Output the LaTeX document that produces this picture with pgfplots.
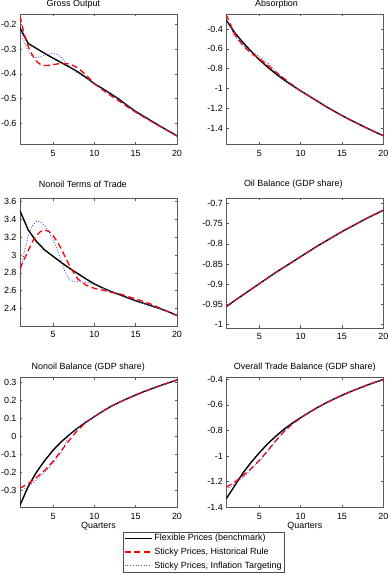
\documentclass[border=0pt]{standalone}
\usepackage{fontspec}
\setmainfont{Liberation Sans}
\usepackage{pgfplots}
\pgfplotsset{compat=1.18}
\definecolor{infl}{rgb}{0.3,0.3,0.85}
\newcommand{\fs}{\fontsize{9}{10}\selectfont}
\pgfplotsset{
  panel/.style={
    scale only axis, width=157bp, anchor=north west,
    xmin=1, xmax=20, xtick={5,10,15,20},
    axis line style={draw=black!65},
    every tick/.style={draw=black!65},
    major tick length=2.5bp,
    tick label style={font=\fs},
    xticklabel style={yshift=-2.5bp},
    /pgf/number format/assume math mode=true,
    scaled y ticks=false,
    title style={font=\fs, anchor=base},
    label style={font=\fs},
  },
  flex/.style={black, line width=1.4bp},
  hist/.style={red, line width=1.3bp, dash pattern=on 6bp off 3.5bp},
  inflt/.style={infl, line width=0.9bp, dash pattern=on 0.9bp off 1.8bp},
}
\begin{document}
\begin{tikzpicture}
\useasboundingbox (0,0) rectangle (388bp,-575bp);
% Panel 1
\begin{axis}[panel, at={(20bp,-14bp)}, height=130bp,
  ymin=-0.683, ymax=-0.159, ytick={-0.6,-0.5,-0.4,-0.3,-0.2},
  title={Gross Output}, title style={at={(0.34,1)}, yshift=1.5bp}]
\addplot[flex] coordinates {(1,-0.215) (2,-0.278) (3,-0.298) (4,-0.318) (5,-0.337) (6,-0.355) (7,-0.373) (8,-0.392) (9,-0.415) (10,-0.44) (11,-0.46) (12,-0.481) (13,-0.503) (14,-0.528) (15,-0.552) (16,-0.572) (17,-0.592) (18,-0.612) (19,-0.631) (20,-0.65)};
\addplot[hist] coordinates {(1,-0.168) (1.5,-0.24) (2,-0.29) (2.5,-0.325) (3,-0.35) (3.5,-0.363) (4,-0.367) (4.5,-0.366) (5,-0.363) (6,-0.358) (7,-0.36) (8,-0.376) (9,-0.405) (10,-0.44) (11,-0.465) (12,-0.488) (13,-0.51) (14,-0.533) (15,-0.555) (16,-0.575) (17,-0.594) (18,-0.613) (19,-0.632) (20,-0.651)};
\addplot[inflt] coordinates {(1,-0.225) (1.5,-0.27) (2,-0.31) (2.5,-0.33) (3,-0.335) (3.5,-0.33) (4,-0.325) (5,-0.318) (5.5,-0.322) (6,-0.335) (7,-0.37) (8,-0.398) (9,-0.418) (10,-0.44) (11,-0.462) (12,-0.483) (13,-0.505) (14,-0.529) (15,-0.553) (16,-0.573) (17,-0.593) (18,-0.612) (19,-0.631) (20,-0.65)};
\end{axis}
% Panel 2
\begin{axis}[panel, at={(226.3bp,-14bp)}, height=130bp,
  ymin=-1.562, ymax=-0.248, ytick={-1.4,-1.2,-1,-0.8,-0.6,-0.4},
  title={Absorption}, title style={at={(0.32,1)}, yshift=1.5bp}]
\addplot[flex] coordinates {(1,-0.31) (2,-0.435) (3,-0.535) (4,-0.625) (5,-0.71) (6,-0.785) (7,-0.853) (8,-0.915) (9,-0.972) (10,-1.025) (11,-1.076) (12,-1.128) (13,-1.18) (14,-1.228) (15,-1.275) (16,-1.318) (17,-1.36) (18,-1.401) (19,-1.44) (20,-1.478)};
\addplot[hist] coordinates {(1,-0.255) (2,-0.45) (3,-0.565) (4,-0.645) (5,-0.7) (6,-0.765) (7,-0.835) (8,-0.9) (9,-0.965) (10,-1.025) (11,-1.076) (12,-1.128) (13,-1.18) (14,-1.228) (15,-1.275) (16,-1.318) (17,-1.36) (18,-1.401) (19,-1.44) (20,-1.478)};
\addplot[inflt] coordinates {(1,-0.3) (2,-0.47) (3,-0.565) (4,-0.625) (5,-0.68) (6,-0.745) (7,-0.83) (8,-0.905) (9,-0.97) (10,-1.025) (11,-1.076) (12,-1.128) (13,-1.18) (14,-1.228) (15,-1.275) (16,-1.318) (17,-1.36) (18,-1.401) (19,-1.44) (20,-1.478)};
\end{axis}
% Panel 3
\begin{axis}[panel, at={(20bp,-198.3bp)}, height=127.4bp,
  ymin=2.205, ymax=3.637, ytick={2.4,2.6,2.8,3,3.2,3.4,3.6},
  title={Nonoil Terms of Trade}, title style={at={(0.40,1)}, yshift=5bp}]
\addplot[flex] coordinates {(1,3.495) (2,3.28) (3,3.15) (4,3.055) (5,2.985) (6,2.915) (7,2.85) (8,2.79) (9,2.73) (10,2.675) (11,2.63) (12,2.59) (13,2.555) (14,2.52) (15,2.485) (16,2.455) (17,2.425) (18,2.395) (19,2.36) (20,2.32)};
\addplot[hist] coordinates {(1,2.85) (1.5,2.95) (2,3.05) (2.5,3.15) (3,3.22) (3.5,3.265) (4,3.28) (4.5,3.265) (5,3.22) (5.5,3.15) (6,3.07) (6.5,2.97) (7,2.88) (7.5,2.8) (8,2.73) (9,2.66) (10,2.625) (11,2.605) (12,2.58) (13,2.565) (14,2.535) (15,2.505) (16,2.475) (17,2.443) (18,2.4) (19,2.36) (20,2.32)};
\addplot[inflt] coordinates {(1,2.77) (1.5,3.03) (2,3.22) (2.5,3.33) (3,3.38) (3.5,3.37) (4,3.33) (4.5,3.26) (5,3.17) (5.5,3.06) (6,2.93) (6.5,2.8) (7,2.72) (7.5,2.7) (8,2.7) (9,2.695) (10,2.67) (11,2.63) (12,2.59) (13,2.555) (14,2.52) (15,2.485) (16,2.455) (17,2.425) (18,2.395) (19,2.36) (20,2.32)};
\end{axis}
% Panel 4
\begin{axis}[panel, at={(226.3bp,-197.7bp)}, height=130bp,
  ymin=-1.008, ymax=-0.686, ytick={-1,-0.95,-0.9,-0.85,-0.8,-0.75,-0.7},
  title={Oil Balance (GDP share)}, title style={at={(0.427,1)}, yshift=5bp}]
\addplot[flex] coordinates {(1,-0.956) (2,-0.941) (3,-0.927) (4,-0.913) (5,-0.899) (6,-0.885) (7,-0.871) (8,-0.858) (9,-0.845) (10,-0.832) (11,-0.819) (12,-0.806) (13,-0.794) (14,-0.782) (15,-0.77) (16,-0.759) (17,-0.748) (18,-0.737) (19,-0.727) (20,-0.717)};
\addplot[hist] coordinates {(1,-0.956) (2,-0.941) (3,-0.927) (4,-0.913) (5,-0.899) (6,-0.885) (7,-0.871) (8,-0.858) (9,-0.845) (10,-0.832) (11,-0.819) (12,-0.806) (13,-0.794) (14,-0.782) (15,-0.77) (16,-0.759) (17,-0.748) (18,-0.737) (19,-0.727) (20,-0.717)};
\addplot[inflt] coordinates {(1,-0.956) (2,-0.941) (3,-0.927) (4,-0.913) (5,-0.899) (6,-0.885) (7,-0.871) (8,-0.858) (9,-0.845) (10,-0.832) (11,-0.819) (12,-0.806) (13,-0.794) (14,-0.782) (15,-0.77) (16,-0.759) (17,-0.748) (18,-0.737) (19,-0.727) (20,-0.717)};
\end{axis}
% Panel 5
\begin{axis}[panel, at={(20bp,-377.3bp)}, height=130bp,
  ymin=-0.397, ymax=0.33, ytick={-0.3,-0.2,-0.1,0,0.1,0.2,0.3},
  title={Nonoil Balance (GDP share)}, title style={at={(0.435,1)}, yshift=1.5bp},
  xlabel={Quarters}, xlabel style={at={(0.5,0)}, anchor=base, yshift=-21bp},
  legend style={at={(0.655,-0.188)}, anchor=north west, draw=black!70, font=\fs,
    inner xsep=1bp, inner ysep=0.5bp, row sep=1.6bp},
  legend cell align=left,
  legend image code/.code={\draw[#1] (0bp,0bp) -- (27bp,0bp);}]
\addplot[flex] coordinates {(1,-0.385) (2,-0.28) (3,-0.2) (4,-0.135) (5,-0.078) (6,-0.03) (7,0.01) (8,0.047) (9,0.08) (10,0.11) (11,0.14) (12,0.167) (13,0.19) (14,0.211) (15,0.231) (16,0.25) (17,0.267) (18,0.284) (19,0.3) (20,0.315)};
\addlegendentry{Flexible Prices (benchmark)}
\addplot[hist] coordinates {(1,-0.29) (2,-0.265) (3,-0.23) (4,-0.19) (5,-0.14) (6,-0.08) (7,-0.02) (8,0.035) (9,0.078) (10,0.11) (11,0.14) (12,0.167) (13,0.19) (14,0.211) (15,0.231) (16,0.25) (17,0.267) (18,0.284) (19,0.3) (20,0.315)};
\addlegendentry{Sticky Prices, Historical Rule}
\addplot[inflt] coordinates {(1,-0.31) (2,-0.28) (3,-0.245) (4,-0.2) (5,-0.15) (6,-0.09) (6.5,-0.04) (7,0.01) (8,0.045) (9,0.08) (10,0.11) (11,0.14) (12,0.167) (13,0.19) (14,0.211) (15,0.231) (16,0.25) (17,0.267) (18,0.284) (19,0.3) (20,0.315)};
\addlegendentry{Sticky Prices, Inflation Targeting}
\end{axis}
% Panel 6
\begin{axis}[panel, at={(226.3bp,-377.3bp)}, height=129.7bp,
  ymin=-1.4, ymax=-0.384, ytick={-1.4,-1.2,-1,-0.8,-0.6,-0.4},
  title={Overall Trade Balance (GDP share)}, title style={at={(0.5,1)}, yshift=1.5bp},
  xlabel={Quarters}, xlabel style={at={(0.5,0)}, anchor=base, yshift=-21bp}]
\addplot[flex] coordinates {(1,-1.335) (2,-1.235) (3,-1.135) (4,-1.05) (5,-0.975) (6,-0.905) (7,-0.845) (8,-0.79) (9,-0.743) (10,-0.7) (11,-0.66) (12,-0.622) (13,-0.587) (14,-0.555) (15,-0.525) (16,-0.497) (17,-0.471) (18,-0.446) (19,-0.423) (20,-0.402)};
\addplot[hist] coordinates {(1,-1.245) (2,-1.205) (3,-1.155) (4,-1.1) (5,-1.035) (6,-0.96) (7,-0.88) (8,-0.808) (9,-0.75) (10,-0.703) (11,-0.66) (12,-0.622) (13,-0.587) (14,-0.555) (15,-0.525) (16,-0.497) (17,-0.471) (18,-0.446) (19,-0.423) (20,-0.402)};
\addplot[inflt] coordinates {(1,-1.26) (2,-1.22) (3,-1.17) (4,-1.105) (5,-1.04) (6,-0.965) (7,-0.88) (8,-0.805) (9,-0.748) (10,-0.702) (11,-0.66) (12,-0.622) (13,-0.587) (14,-0.555) (15,-0.525) (16,-0.497) (17,-0.471) (18,-0.446) (19,-0.423) (20,-0.402)};
\end{axis}
\end{tikzpicture}
\end{document}
